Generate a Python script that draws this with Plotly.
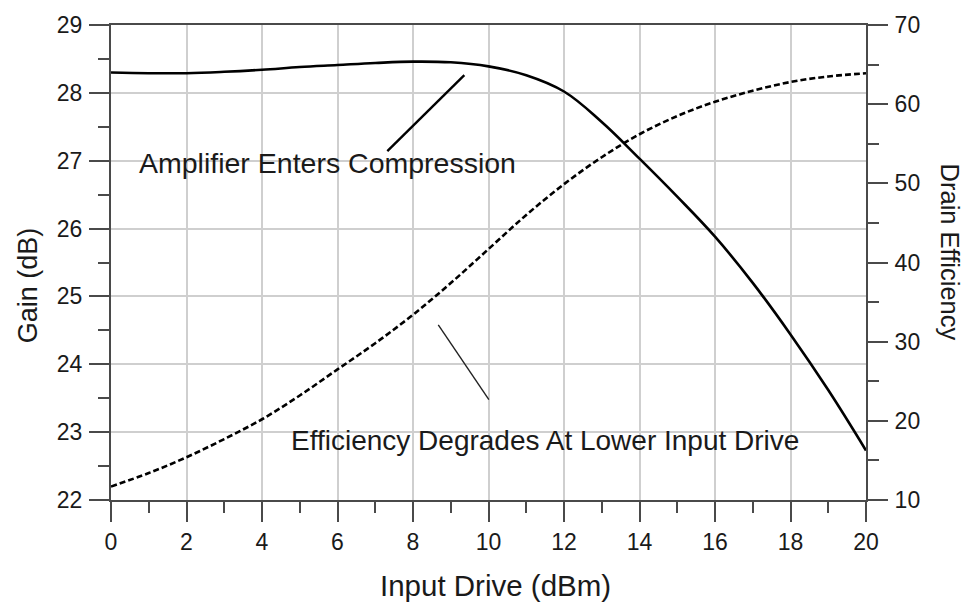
import plotly.graph_objects as go

# Input drive sweep (dBm)
input_drive = [0, 1, 2, 3, 4, 5, 6, 7, 8, 9, 10, 11, 12, 13, 14, 15, 16, 17, 18, 19, 20]
# Gain vs drive (dB, left axis)
gain_db = [28.30, 28.29, 28.29, 28.31, 28.34, 28.38, 28.41, 28.44, 28.46, 28.45, 28.39,
           28.26, 28.02, 27.57, 27.03, 26.47, 25.88, 25.20, 24.44, 23.62, 22.73]
# Drain efficiency vs drive (%, right axis)
drain_eff = [11.7, 13.4, 15.4, 17.7, 20.2, 23.2, 26.5, 29.8, 33.4, 37.4, 41.7,
             46.0, 49.9, 53.3, 56.2, 58.5, 60.3, 61.7, 62.8, 63.5, 63.9]

x_ticks = [0, 2, 4, 6, 8, 10, 12, 14, 16, 18, 20]
gain_ticks = [22, 23, 24, 25, 26, 27, 28, 29]
eff_ticks = [10, 20, 30, 40, 50, 60, 70]

FONT = "Liberation Sans, Arial, sans-serif"
AXIS_COLOR = "#4a4a4a"
GRID_COLOR = "#cfcfcf"
TEXT_COLOR = "#1a1a1a"

fig = go.Figure()
fig.add_trace(go.Scatter(
    x=input_drive, y=gain_db, mode="lines", line_shape="spline",
    line=dict(color="black", width=2.6, smoothing=1.1), showlegend=False))
fig.add_trace(go.Scatter(
    x=input_drive, y=drain_eff, mode="lines", line_shape="spline", yaxis="y2",
    line=dict(color="black", width=2.6, dash="6px,3px"), showlegend=False))

# Callout leader lines (data coordinates on the gain axis)
fig.add_shape(type="line", xref="x", yref="y", x0=7.32, y0=27.14, x1=9.36, y1=28.26,
              line=dict(color="black", width=2.4))
fig.add_shape(type="line", xref="x", yref="y", x0=8.67, y0=24.58, x1=10.01, y1=23.48,
              line=dict(color="#222", width=1.4))

fig.add_annotation(x=0.69, y=26.97, xref="x", yref="y", text="Amplifier Enters Compression",
                   showarrow=False, xanchor="left", yanchor="middle",
                   font=dict(family=FONT, size=28.5, color=TEXT_COLOR))
fig.add_annotation(x=4.715, y=22.87, xref="x", yref="y",
                   text="Efficiency Degrades At Lower Input Drive",
                   showarrow=False, xanchor="left", yanchor="middle",
                   font=dict(family=FONT, size=28, color=TEXT_COLOR))

# Axis titles
fig.add_annotation(x=0, y=0.452, xref="paper", yref="paper", xshift=-83,
                   text="Gain (dB)", textangle=-90, showarrow=False,
                   xanchor="center", yanchor="middle",
                   font=dict(family=FONT, size=27, color=TEXT_COLOR))
fig.add_annotation(x=1, y=0.523, xref="paper", yref="paper", xshift=84,
                   text="Drain Efficiency", textangle=90, showarrow=False,
                   xanchor="center", yanchor="middle",
                   font=dict(family=FONT, size=25.5, color=TEXT_COLOR))
fig.add_annotation(x=0.5, y=0, xref="paper", yref="paper", xshift=7, yshift=-85,
                   text="Input Drive (dBm)", showarrow=False,
                   xanchor="center", yanchor="middle",
                   font=dict(family=FONT, size=29.5, color=TEXT_COLOR))

tick_font = dict(family=FONT, size=23, color=TEXT_COLOR)

fig.update_layout(
    width=967, height=604,
    margin=dict(l=111, r=101, t=18, b=104),
    paper_bgcolor="white", plot_bgcolor="white",
    xaxis=dict(
        range=[0, 20], tickvals=x_ticks, ticks="outside", ticklen=20, tickwidth=2,
        tickcolor=AXIS_COLOR, showline=True, linecolor=AXIS_COLOR, linewidth=2,
        mirror=True, showgrid=True, gridcolor=GRID_COLOR, gridwidth=1.5,
        zeroline=False, tickfont=tick_font,
        minor=dict(dtick=1, ticks="outside", ticklen=11, tickwidth=2,
                   tickcolor=AXIS_COLOR, showgrid=False),
    ),
    yaxis=dict(
        range=[22, 29], tickvals=gain_ticks, ticks="outside", ticklen=20, tickwidth=2,
        tickcolor=AXIS_COLOR, showline=True, linecolor=AXIS_COLOR, linewidth=2,
        showgrid=True, gridcolor=GRID_COLOR, gridwidth=1.5, zeroline=False,
        tickfont=tick_font, ticklabelstandoff=2,
        minor=dict(dtick=0.5, ticks="outside", ticklen=11, tickwidth=2,
                   tickcolor=AXIS_COLOR, showgrid=False),
    ),
    yaxis2=dict(
        range=[10, 70], tickvals=eff_ticks, overlaying="y", side="right",
        ticks="outside", ticklen=20, tickwidth=2, tickcolor=AXIS_COLOR,
        showline=True, linecolor=AXIS_COLOR, linewidth=2, showgrid=False,
        zeroline=False, tickfont=tick_font, ticklabelstandoff=2,
        minor=dict(dtick=5, ticks="outside", ticklen=11, tickwidth=2,
                   tickcolor=AXIS_COLOR, showgrid=False),
    ),
)

fig.write_html("out.html")
